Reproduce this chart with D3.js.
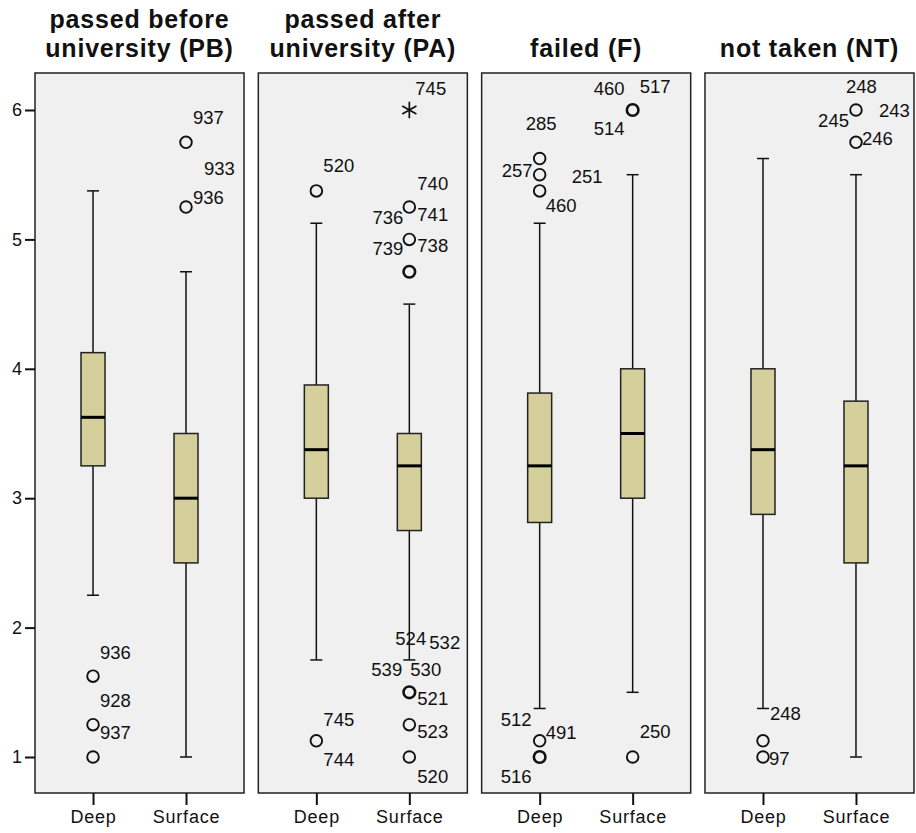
<!DOCTYPE html>
<html><head><meta charset="utf-8">
<script src="https://cdn.jsdelivr.net/npm/d3@7"></script>
<style>body{margin:0;background:#fff;} svg{display:block;font-family:"Liberation Sans",Arial,sans-serif;}</style>
</head><body>
<svg id="chart" width="916" height="833"></svg>
<script>
// ---- data ----
const groups = ["PB", "PA", "F", "NT"];
const groupTitles = [["passed before", "university (PB)"], ["passed after", "university (PA)"], ["", "failed (F)"], ["", "not taken (NT)"]];
const categories = ["Deep", "Surface"];
const yTicks = [1, 2, 3, 4, 5, 6];
// box stats: group, category, lower whisker, Q1, median, Q3, upper whisker
const boxStats = [
  ["PB", "Deep", 2.25, 3.25, 3.625, 4.125, 5.375],
  ["PB", "Surface", 1.0, 2.5, 3.0, 3.5, 4.75],
  ["PA", "Deep", 1.75, 3.0, 3.375, 3.875, 5.125],
  ["PA", "Surface", 1.75, 2.75, 3.25, 3.5, 4.5],
  ["F", "Deep", 1.375, 2.8125, 3.25, 3.8125, 5.125],
  ["F", "Surface", 1.5, 3.0, 3.5, 4.0, 5.5],
  ["NT", "Deep", 1.375, 2.875, 3.375, 4.0, 5.625],
  ["NT", "Surface", 1.0, 2.5, 3.25, 3.75, 5.5]
];
// outliers: group, category, value, kind ("o" outlier, "x" extreme)
const outliers = [
  ["PB", "Deep", 1.625, "o"], ["PB", "Deep", 1.25, "o"], ["PB", "Deep", 1.0, "o"],
  ["PB", "Surface", 5.75, "o"], ["PB", "Surface", 5.25, "o"],
  ["PA", "Deep", 5.375, "o"], ["PA", "Deep", 1.125, "o"],
  ["PA", "Surface", 6.0, "x"], ["PA", "Surface", 5.25, "o"], ["PA", "Surface", 5.0, "o"],
  ["PA", "Surface", 4.75, "o"], ["PA", "Surface", 4.75, "o"],
  ["PA", "Surface", 1.5, "o"], ["PA", "Surface", 1.5, "o"], ["PA", "Surface", 1.25, "o"], ["PA", "Surface", 1.0, "o"],
  ["F", "Deep", 5.625, "o"], ["F", "Deep", 5.5, "o"], ["F", "Deep", 5.375, "o"],
  ["F", "Deep", 1.125, "o"], ["F", "Deep", 1.0, "o"], ["F", "Deep", 1.0, "o"],
  ["F", "Surface", 6.0, "o"], ["F", "Surface", 6.0, "o"], ["F", "Surface", 1.0, "o"],
  ["NT", "Deep", 1.125, "o"], ["NT", "Deep", 1.0, "o"],
  ["NT", "Surface", 6.0, "o"], ["NT", "Surface", 5.75, "o"]
];
// case labels: group, category, value, case id
const caseLabels = [
  ["PB", "Deep", 1.625, "936"], ["PB", "Deep", 1.25, "928"], ["PB", "Deep", 1.0, "937"],
  ["PB", "Surface", 5.75, "937"], ["PB", "Surface", 5.25, "933"], ["PB", "Surface", 5.25, "936"],
  ["PA", "Deep", 5.375, "520"], ["PA", "Deep", 1.125, "745"], ["PA", "Deep", 1.125, "744"],
  ["PA", "Surface", 6.0, "745"], ["PA", "Surface", 5.25, "740"], ["PA", "Surface", 5.25, "736"], ["PA", "Surface", 5.25, "741"],
  ["PA", "Surface", 5.0, "739"], ["PA", "Surface", 5.0, "738"],
  ["PA", "Surface", 1.5, "524"], ["PA", "Surface", 1.5, "532"], ["PA", "Surface", 1.5, "539"], ["PA", "Surface", 1.5, "530"],
  ["PA", "Surface", 1.5, "521"], ["PA", "Surface", 1.25, "523"], ["PA", "Surface", 1.0, "520"],
  ["F", "Deep", 5.625, "285"], ["F", "Deep", 5.5, "257"], ["F", "Deep", 5.375, "460"],
  ["F", "Deep", 1.0, "512"], ["F", "Deep", 1.125, "491"], ["F", "Deep", 1.0, "516"],
  ["F", "Surface", 6.0, "460"], ["F", "Surface", 6.0, "517"], ["F", "Surface", 6.0, "514"], ["F", "Surface", 6.0, "251"],
  ["F", "Surface", 1.0, "250"],
  ["NT", "Deep", 1.125, "248"], ["NT", "Deep", 1.0, "97"],
  ["NT", "Surface", 6.0, "248"], ["NT", "Surface", 6.0, "245"], ["NT", "Surface", 6.0, "243"], ["NT", "Surface", 5.75, "246"]
];

// ---- layout (label placement, parallel to caseLabels): dx, dy, anchor ----
const labelPlacement = [
  [7, -17, "start"], [7, -18, "start"], [7, -18, "start"],
  [7, -18, "start"], [18, -32, "start"], [7, -3, "start"],
  [7, -19, "start"], [7, -15, "start"], [7, 25, "start"],
  [6, -15, "start"], [8, -17, "start"], [-6, 17, "end"], [8, 14, "start"],
  [-6, 16, "end"], [8, 13, "start"],
  [-14, -47, "start"], [20, -43, "start"], [-38, -16, "start"], [1, -16, "start"],
  [8, 13, "start"], [8, 13, "start"], [8, 26, "start"],
  [-14, -29, "start"], [-7, 2, "end"], [6, 21, "start"],
  [-8, -31, "end"], [6, -2, "start"], [-8, 26, "end"],
  [-8, -15, "end"], [7, -17, "start"], [-8, 25, "end"], [-30, 73, "end"],
  [7, -19, "start"],
  [7, -21, "start"], [6, 8, "start"],
  [-10, -17, "start"], [-7, 17, "end"], [23, 7, "start"], [6, 3, "start"]
];

const svg = d3.select("#chart");
const panelTop = 73, panelBottom = 793;
const y = d3.scaleLinear().domain([1, 6]).range([757, 110]);
const px = d3.scaleBand().domain(groups).range([35, 914]).paddingInner(0.064).paddingOuter(0);
const cx = d3.scalePoint().domain(categories).range([0, px.bandwidth()]).padding(0.624);
const boxW = 24, capW = 12;
const boxFill = "#d4cf9b", ink = "#111";

// titles
groups.forEach((g, i) => {
  const t = svg.append("text").attr("text-anchor", "middle")
    .attr("x", px(g) + px.bandwidth() / 2)
    .attr("font-size", 25).attr("font-weight", "bold").attr("letter-spacing", 0.8).attr("fill", ink);
  groupTitles[i].forEach((line, j) => {
    if (line) t.append("tspan").attr("x", px(g) + px.bandwidth() / 2).attr("y", j === 0 ? 28 : 57).text(line);
  });
});

// panels
groups.forEach(g => {
  svg.append("rect").attr("x", px(g)).attr("y", panelTop)
    .attr("width", px.bandwidth()).attr("height", panelBottom - panelTop)
    .attr("fill", "#f0f0f0").attr("stroke", "#222").attr("stroke-width", 1.5);
  const xa = d3.axisBottom(d3.scalePoint().domain(categories).range([px(g), px(g) + px.bandwidth()]).padding(0.624))
    .tickSize(12).tickPadding(5);
  const gx = svg.append("g").attr("transform", `translate(0,${panelBottom})`).call(xa);
  gx.select(".domain").remove();
  gx.selectAll(".tick line").attr("stroke", ink).attr("stroke-width", 2);
  gx.selectAll(".tick text").attr("font-size", 18).attr("fill", ink)
    .attr("font-family", "'Liberation Sans',Arial,sans-serif").attr("letter-spacing", 0.8);
});

// y axis
const ya = d3.axisLeft(y).tickValues(yTicks).tickFormat(d3.format("d")).tickSize(10).tickPadding(3);
const gy = svg.append("g").attr("transform", `translate(${px(groups[0])},0)`).call(ya);
gy.select(".domain").remove();
gy.selectAll(".tick line").attr("stroke", ink).attr("stroke-width", 2);
gy.selectAll(".tick text").attr("font-size", 18).attr("fill", ink)
  .attr("font-family", "'Liberation Sans',Arial,sans-serif");

// boxes
boxStats.forEach(([g, c, lo, q1, med, q3, hi]) => {
  const x0 = px(g) + cx(c);
  const gb = svg.append("g");
  gb.append("line").attr("x1", x0).attr("x2", x0).attr("y1", y(hi)).attr("y2", y(q3)).attr("stroke", ink).attr("stroke-width", 1.5);
  gb.append("line").attr("x1", x0).attr("x2", x0).attr("y1", y(q1)).attr("y2", y(lo)).attr("stroke", ink).attr("stroke-width", 1.5);
  gb.append("line").attr("x1", x0 - capW / 2).attr("x2", x0 + capW / 2).attr("y1", y(hi)).attr("y2", y(hi)).attr("stroke", ink).attr("stroke-width", 1.5);
  gb.append("line").attr("x1", x0 - capW / 2).attr("x2", x0 + capW / 2).attr("y1", y(lo)).attr("y2", y(lo)).attr("stroke", ink).attr("stroke-width", 1.5);
  gb.append("rect").attr("x", x0 - boxW / 2).attr("y", y(q3)).attr("width", boxW).attr("height", y(q1) - y(q3))
    .attr("fill", boxFill).attr("stroke", "#222").attr("stroke-width", 1.5);
  gb.append("line").attr("x1", x0 - boxW / 2).attr("x2", x0 + boxW / 2).attr("y1", y(med)).attr("y2", y(med)).attr("stroke", "#000").attr("stroke-width", 3);
});

// outliers (duplicates drawn with heavier stroke)
const outCounts = d3.rollups(outliers, v => ({ n: v.length, kind: v[0][3] }), d => d[0] + "|" + d[1] + "|" + d[2]);
outCounts.forEach(([key, info]) => {
  const [g, c, v] = key.split("|");
  const x0 = px(g) + cx(c), y0 = y(+v);
  if (info.kind === "x") {
    svg.append("path").attr("transform", `translate(${x0},${y0})`)
      .attr("d", d3.symbol(d3.symbolAsterisk, 190)())
      .attr("fill", "none").attr("stroke", ink).attr("stroke-width", 1.7);
  } else {
    svg.append("circle").attr("cx", x0).attr("cy", y0).attr("r", 5.8)
      .attr("fill", "none").attr("stroke", ink).attr("stroke-width", info.n > 1 ? 2.6 : 1.9);
  }
});

// case labels
caseLabels.forEach(([g, c, v, id], i) => {
  const [dx, dy, anchor] = labelPlacement[i];
  svg.append("text").attr("x", px(g) + cx(c) + dx).attr("y", y(v) + dy)
    .attr("text-anchor", anchor).attr("font-size", 18.5).attr("fill", ink).text(id);
});
</script>
</body></html>
